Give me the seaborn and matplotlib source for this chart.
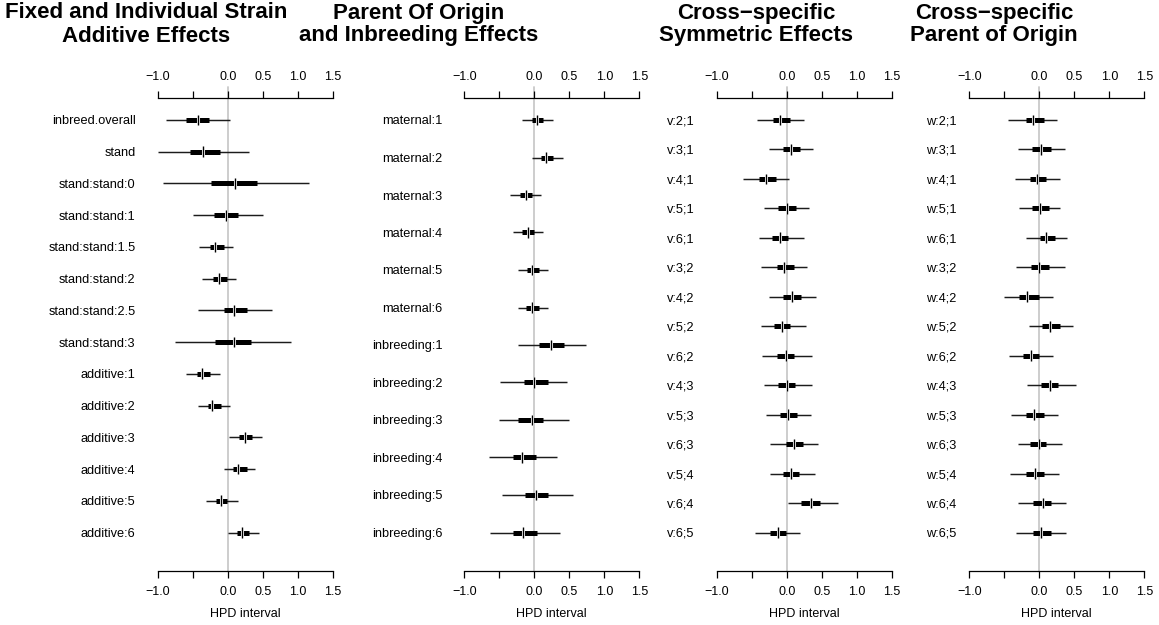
import matplotlib
matplotlib.use("Agg")
import matplotlib.pyplot as plt
import matplotlib.patheffects as pe
import pandas as pd
import seaborn as sns

sns.set_theme(style="white")
plt.rcParams["font.family"] = ["Liberation Sans", "DejaVu Sans"]
plt.rcParams["axes.unicode_minus"] = True

# ---- Fixed and individual strain additive effects ----
fixed_labels = ["inbreed.overall", "stand", "stand:stand:0", "stand:stand:1",
                "stand:stand:1.5", "stand:stand:2", "stand:stand:2.5", "stand:stand:3",
                "additive:1", "additive:2", "additive:3", "additive:4", "additive:5",
                "additive:6"]
fixed_lo95 = [-0.88, -0.99, -0.92, -0.49, -0.41, -0.37, -0.43, -0.76, -0.60, -0.42, 0.02, -0.06, -0.31, 0.00]
fixed_lo   = [-0.59, -0.54, -0.24, -0.19, -0.26, -0.21, -0.06, -0.18, -0.44, -0.28, 0.16, 0.08, -0.17, 0.13]
fixed_med  = [-0.43, -0.36, 0.11, -0.02, -0.18, -0.12, 0.09, 0.09, -0.37, -0.22, 0.25, 0.15, -0.10, 0.21]
fixed_hi   = [-0.27, -0.11, 0.42, 0.15, -0.06, -0.01, 0.28, 0.33, -0.26, -0.10, 0.35, 0.27, -0.01, 0.31]
fixed_hi95 = [0.03, 0.31, 1.16, 0.50, 0.08, 0.12, 0.63, 0.90, -0.11, 0.03, 0.49, 0.39, 0.14, 0.45]

# ---- Parent of origin and inbreeding effects ----
poe_labels = ["maternal:1", "maternal:2", "maternal:3", "maternal:4", "maternal:5", "maternal:6",
              "inbreeding:1", "inbreeding:2", "inbreeding:3", "inbreeding:4", "inbreeding:5",
              "inbreeding:6"]
poe_lo95 = [-0.17, -0.04, -0.34, -0.31, -0.23, -0.24, -0.24, -0.49, -0.51, -0.65, -0.46, -0.63]
poe_lo   = [-0.04, 0.09, -0.20, -0.17, -0.10, -0.12, 0.07, -0.15, -0.23, -0.31, -0.14, -0.31]
poe_med  = [0.04, 0.17, -0.12, -0.09, -0.03, -0.04, 0.24, 0.00, -0.03, -0.17, 0.03, -0.16]
poe_hi   = [0.13, 0.26, -0.03, -0.01, 0.07, 0.06, 0.43, 0.19, 0.12, 0.03, 0.20, 0.04]
poe_hi95 = [0.27, 0.41, 0.09, 0.13, 0.20, 0.19, 0.74, 0.46, 0.49, 0.32, 0.55, 0.36]

# ---- Cross-specific symmetric effects ----
sym_labels = ["v:2;1", "v:3;1", "v:4;1", "v:5;1", "v:6;1", "v:3;2", "v:4;2", "v:5;2",
              "v:6;2", "v:4;3", "v:5;3", "v:6;3", "v:5;4", "v:6;4", "v:6;5"]
sym_lo95 = [-0.43, -0.25, -0.62, -0.33, -0.40, -0.37, -0.25, -0.37, -0.35, -0.32, -0.29, -0.24, -0.24, 0.02, -0.45]
sym_lo   = [-0.20, -0.05, -0.40, -0.12, -0.21, -0.14, -0.05, -0.18, -0.14, -0.13, -0.10, -0.01, -0.06, 0.20, -0.24]
sym_med  = [-0.10, 0.06, -0.30, 0.01, -0.10, -0.04, 0.07, -0.07, -0.01, 0.00, 0.02, 0.10, 0.06, 0.35, -0.12]
sym_hi   = [0.04, 0.19, -0.16, 0.13, 0.02, 0.10, 0.20, 0.05, 0.11, 0.12, 0.14, 0.23, 0.18, 0.48, -0.01]
sym_hi95 = [0.24, 0.38, 0.03, 0.32, 0.25, 0.29, 0.42, 0.27, 0.36, 0.36, 0.35, 0.44, 0.40, 0.73, 0.19]

# ---- Cross-specific parent of origin ----
cpo_labels = ["w:2;1", "w:3;1", "w:4;1", "w:5;1", "w:6;1", "w:3;2", "w:4;2", "w:5;2",
              "w:6;2", "w:4;3", "w:5;3", "w:6;3", "w:5;4", "w:6;4", "w:6;5"]
cpo_lo95 = [-0.45, -0.31, -0.35, -0.29, -0.19, -0.34, -0.51, -0.15, -0.44, -0.18, -0.40, -0.31, -0.42, -0.31, -0.33]
cpo_lo   = [-0.19, -0.10, -0.14, -0.10, 0.01, -0.12, -0.29, 0.04, -0.24, 0.02, -0.19, -0.13, -0.19, -0.09, -0.09]
cpo_med  = [-0.09, 0.02, -0.04, 0.01, 0.10, 0.00, -0.17, 0.15, -0.12, 0.15, -0.07, -0.01, -0.06, 0.05, 0.02]
cpo_hi   = [0.07, 0.16, 0.10, 0.14, 0.22, 0.14, -0.01, 0.29, 0.00, 0.27, 0.07, 0.10, 0.07, 0.16, 0.16]
cpo_hi95 = [0.25, 0.37, 0.29, 0.30, 0.39, 0.36, 0.19, 0.48, 0.20, 0.53, 0.27, 0.33, 0.28, 0.38, 0.38]

xticks = [-1.0, -0.5, 0.0, 0.5, 1.0, 1.5]
xtick_labels = ["\u22121.0", "", "0.0", "0.5", "1.0", "1.5"]

panels = [
    dict(title=("Fixed and Individual Strain", "Additive Effects"), tx=146,
         left=157.7, label_gap=16.0,
         labels=fixed_labels, lo95=fixed_lo95, lo=fixed_lo, med=fixed_med, hi=fixed_hi, hi95=fixed_hi95),
    dict(title=("Parent Of Origin", "and Inbreeding Effects"), tx=419,
         left=464.3, label_gap=15.5,
         labels=poe_labels, lo95=poe_lo95, lo=poe_lo, med=poe_med, hi=poe_hi, hi95=poe_hi95),
    dict(title=("Cross\u2212specific", "Symmetric Effects"), tx=756,
         left=716.7, label_gap=16.0,
         labels=sym_labels, lo95=sym_lo95, lo=sym_lo, med=sym_med, hi=sym_hi, hi95=sym_hi95),
    dict(title=("Cross\u2212specific", "Parent of Origin"), tx=994,
         left=969.3, label_gap=9.5,
         labels=cpo_labels, lo95=cpo_lo95, lo=cpo_lo, med=cpo_med, hi=cpo_hi, hi95=cpo_hi95),
]

W, H = 1159, 625
fig = plt.figure(figsize=(W / 100, H / 100), dpi=100)

ax_top, ax_bot = 98.0, 570.5      # axis lines (pixels from top)
row_first, row_last = 120.0, 532.5
ax_w = 175.0

for p in panels:
    n = len(p["labels"])
    df = pd.DataFrame({"label": p["labels"], "pos": range(n), "lo95": p["lo95"],
                       "lo": p["lo"], "med": p["med"], "hi": p["hi"], "hi95": p["hi95"]})
    ax = fig.add_axes([p["left"] / W, 1 - ax_bot / H, ax_w / W, (ax_bot - ax_top) / H])
    ppu = (row_last - row_first) / (n - 1)
    ax.set_ylim(n - 1 + (ax_bot - row_last) / ppu, -(row_first - ax_top) / ppu)
    ax.set_xlim(-1.0, 1.5)

    # reference line at zero, reaching slightly above the top axis
    ax.axvline(0, ymin=0, ymax=1 + 11 / (ax_bot - ax_top), color="#c9c9c9", lw=1.3,
               zorder=0, clip_on=False)

    ax.hlines(df["pos"], df["lo95"], df["hi95"], color="#1c1c1c", lw=1.05, zorder=2)
    ax.hlines(df["pos"], df["lo"], df["hi"], color="black", lw=3.6, zorder=3)
    sns.scatterplot(data=df, x="med", y="pos", marker="|", s=60, color="black",
                    edgecolor="black", linewidth=1.0, ax=ax, legend=False, zorder=4)
    ax.collections[-1].set_path_effects([pe.Stroke(linewidth=2.2, foreground="white"),
                                         pe.Normal()])

    for side in ("left", "right"):
        ax.spines[side].set_visible(False)
    for side in ("top", "bottom"):
        ax.spines[side].set_visible(True)
        ax.spines[side].set_color("black")
        ax.spines[side].set_linewidth(0.9)

    ax.set_xticks(xticks)
    ax.set_xticklabels(xtick_labels)
    ax.tick_params(axis="x", top=True, labeltop=True, bottom=True, labelbottom=True,
                   direction="out", length=5, width=0.9, color="black", pad=6,
                   labelsize=9, labelcolor="black")
    ax.set_yticks(df["pos"])
    ax.set_yticklabels(df["label"])
    ax.tick_params(axis="y", left=False, length=0, pad=p["label_gap"], labelsize=9.2,
                   labelcolor="black")
    ax.set_xlabel("")
    ax.set_ylabel("")
    ax.grid(False)

    fig.text((p["left"] + ax_w / 2) / W, 1 - 614 / H, "HPD interval", ha="center",
             va="center", fontsize=9, color="black")
    fig.text(p["tx"] / W, 1 - 13 / H, p["title"][0], ha="center", va="center",
             fontsize=16, fontweight="bold", color="black")
    fig.text(p["tx"] / W, 1 - 36 / H, p["title"][1], ha="center", va="center",
             fontsize=16, fontweight="bold", color="black")

fig.savefig("out.png", dpi=100, facecolor="white")
